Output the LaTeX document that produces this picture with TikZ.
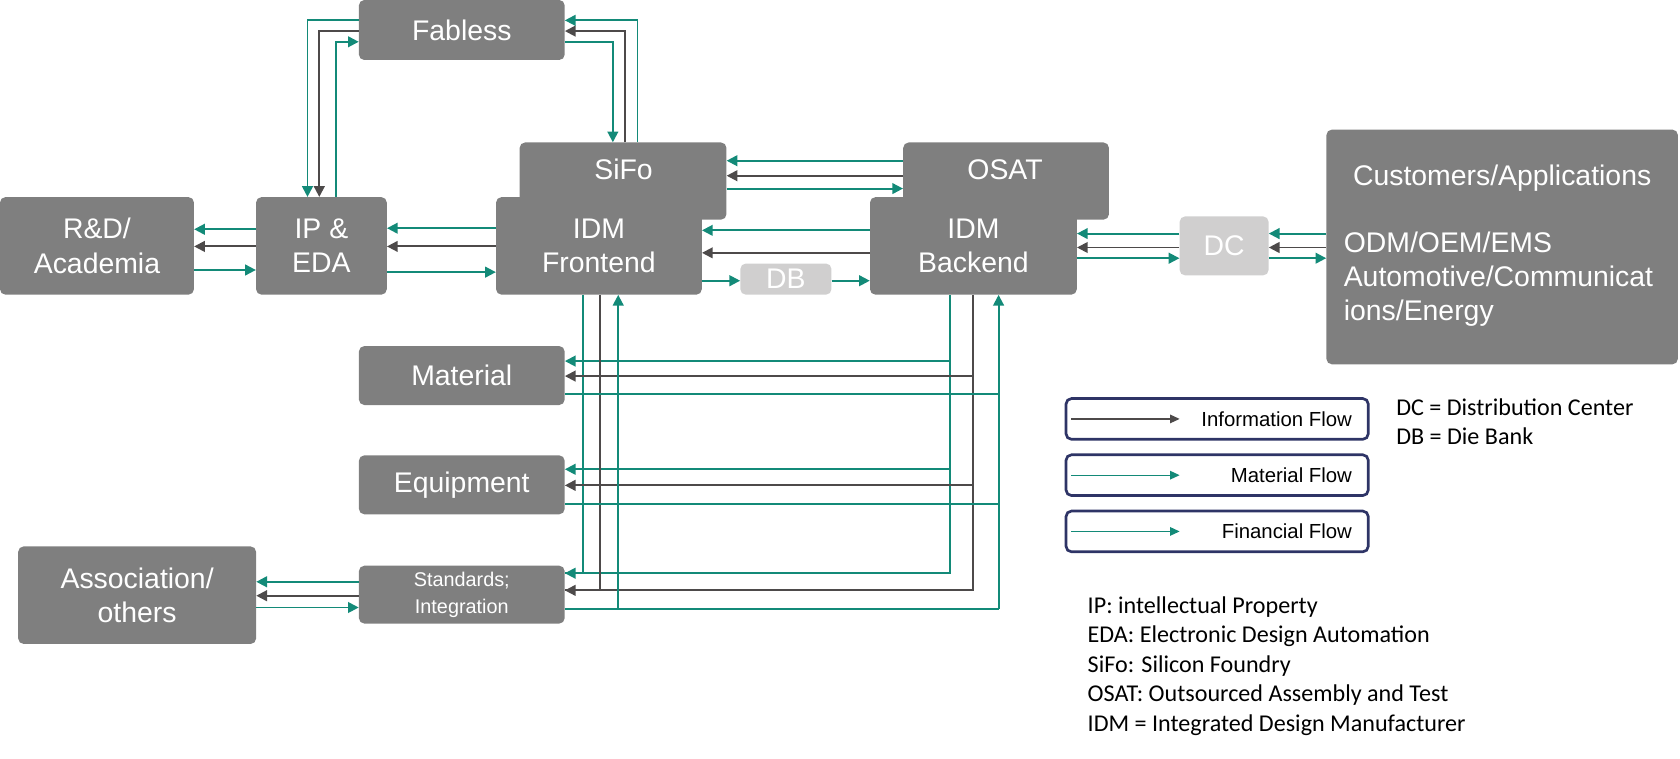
\documentclass[tikz,border=0pt]{standalone}
\usepackage{fontspec}
\setmainfont{Liberation Sans}
\newfontfamily\carlfont{Carlito}
\usetikzlibrary{arrows.meta,calc}
\definecolor{bxg}{HTML}{7F7F7F}
\definecolor{lg}{HTML}{D0CFCF}
\definecolor{tl}{HTML}{138A78}
\definecolor{dk}{HTML}{4D4A4A}
\definecolor{nv}{HTML}{2E3466}
\tikzset{
 box/.style={fill=bxg,rounded corners=5pt,text=white,font=\fontsize{26.5}{32}\selectfont,align=center,inner sep=0pt},
 lbox/.style={box,fill=lg},
 tip/.style={-{Triangle[length=10pt,width=10pt]}},
 mat/.style={draw=tl,line width=1.8pt,tip},
 inf/.style={draw=dk,line width=1.8pt,tip},
 ln/.style={draw=tl,line width=1.8pt},
 lnd/.style={draw=dk,line width=1.8pt},
 leg/.style={draw=nv,line width=2.5pt,rounded corners=5pt},
 abv/.style={font=\carlfont\fontsize{22.5}{25}\selectfont,anchor=west,inner sep=0pt},
 legt/.style={anchor=east,font=\fontsize{19}{22}\selectfont,inner sep=0},
}
\newcommand{\bx}[7]{\node[#1,minimum width={(#4-#2)*1pt},minimum height={(#5-#3)*1pt}] (#6) at ({(#2+#4)/2},{(#3+#5)/2}) {#7};}
\begin{document}
\begin{tikzpicture}[x=1pt,y=-1pt]
\useasboundingbox (0,0) rectangle (1568,708);
\bx{box}{335}{0}{527}{56}{fab}{Fabless}
\bx{box}{485}{133}{678}{205}{sifo}{}
\node[box] (sifot) at (582,158) {SiFo};
\bx{box}{843}{133}{1035}{205}{osat}{}
\node[box] (osatt) at (938,158) {OSAT};
\bx{box}{0}{184}{181}{275}{rd}{R\&D/\\Academia}
\bx{box}{239}{184}{361}{275}{ip}{IP \&\\EDA}
\bx{box}{463}{184}{655}{275}{fe}{IDM\\Frontend}
\bx{lbox}{691}{246}{776}{275}{db}{DB}
\bx{box}{812}{184}{1005}{275}{be}{IDM\\Backend}
\bx{lbox}{1101}{202}{1184}{257}{dc}{DC}
\bx{box}{1238}{121}{1566}{340}{cu}{}
\node[box] (cut) at (1402,166) {Customers/Applications};
\node[box,anchor=north west,align=left] (cut2) at (1254,216) {ODM/OEM/EMS\\Automotive/Communicat\\ions/Energy};
\bx{box}{335}{323}{527}{378}{mt}{Material}
\bx{box}{335}{425}{527}{480}{eq}{Equipment}
\bx{box,font=\fontsize{18.5}{25}\selectfont}{335}{528}{527}{582}{st}{Standards;\\Integration}
\bx{box}{17}{510}{239}{601}{as}{Association/\\others}
% Fabless - IP
\draw[mat] (fab.west|-0,19) -| (ip.north-|287,0);
\draw[inf] (fab.west|-0,29) -| (ip.north-|298,0);
\draw[mat] (ip.north-|314,0) |- (fab.west|-0,39);
% Fabless - SiFo
\draw[mat] (fab.east|-0,39) -| (sifo.north-|572,0);
\draw[inf] (sifo.north-|583,0) |- (fab.east|-0,29);
\draw[mat] (sifo.north-|595,0) |- (fab.east|-0,19);
% SiFo - OSAT
\draw[mat] (osat.west|-0,150) -- (sifo.east|-0,150);
\draw[inf] (osat.west|-0,164) -- (sifo.east|-0,164);
\draw[mat] (sifo.east|-0,176) -- (osat.west|-0,176);
% R&D - IP
\draw[mat] (ip.west|-0,214) -- (rd.east|-0,214);
\draw[inf] (ip.west|-0,230) -- (rd.east|-0,230);
\draw[mat] (rd.east|-0,252) -- (ip.west|-0,252);
% IP - FE
\draw[mat] (fe.west|-0,213) -- (ip.east|-0,213);
\draw[inf] (fe.west|-0,230) -- (ip.east|-0,230);
\draw[mat] (ip.east|-0,254) -- (fe.west|-0,254);
% FE - BE
\draw[mat] (be.west|-0,215) -- (fe.east|-0,215);
\draw[inf] (be.west|-0,236) -- (fe.east|-0,236);
\draw[mat] (fe.east|-0,262) -- (db.west|-0,262);
\draw[mat] (db.east|-0,262) -- (be.west|-0,262);
% BE - DC - Customers
\draw[mat] (dc.west|-0,218) -- (be.east|-0,218);
\draw[inf] (dc.west|-0,231) -- (be.east|-0,231);
\draw[mat] (be.east|-0,241) -- (dc.west|-0,241);
\draw[mat] (cu.west|-0,218) -- (dc.east|-0,218);
\draw[inf] (cu.west|-0,231) -- (dc.east|-0,231);
\draw[mat] (dc.east|-0,241) -- (cu.west|-0,241);
% Association - Standards
\draw[mat] (st.west|-0,543) -- (as.east|-0,543);
\draw[inf] (st.west|-0,556) -- (as.east|-0,556);
\draw[mat] (as.east|-0,567) -- (st.west|-0,567);
% supply side: material from BE/FE
\path[ln] (be.south-|887,0) |- (st.east|-0,535);
\path[ln] (fe.south-|544,0) -- (544,535);
\draw[mat] (887,337) -- (mt.east|-0,337);
\draw[mat] (887,438) -- (eq.east|-0,438);
\draw[mat] (544,535) -- (st.east|-0,535);
% information
\path[lnd] (be.south-|908,0) |- (st.east|-0,551);
\path[lnd] (fe.south-|560,0) -- (560,551);
\draw[inf] (908,351) -- (mt.east|-0,351);
\draw[inf] (908,453) -- (eq.east|-0,453);
\draw[inf] (560,551) -- (st.east|-0,551);
% financial back
\path[ln] (mt.east|-0,368) -- (932,368);
\path[ln] (eq.east|-0,470) -- (932,470);
\path[ln] (st.east|-0,568) -- (932,568);
\draw[mat] (932,568) -- (be.south-|932,0);
\draw[mat] (577,568) -- (fe.south-|577,0);
% legend
\node[leg,minimum width=282pt,minimum height=38pt] (l1) at (1136,391) {};
\node[leg,minimum width=282pt,minimum height=38pt] (l2) at (1136,443.5) {};
\node[leg,minimum width=282pt,minimum height=38pt] (l3) at (1136,496) {};
\coordinate (a1) at (1000,391); \coordinate (b1) at (1101,391);
\coordinate (a2) at (1000,443.5); \coordinate (b2) at (1101,443.5);
\coordinate (a3) at (1000,496); \coordinate (b3) at (1101,496);
\draw[inf,line width=1.2pt,-{Triangle[length=9pt,width=8pt]}] (a1) -- (b1);
\draw[mat,line width=1.2pt,-{Triangle[length=9pt,width=8pt]}] (a2) -- (b2);
\draw[mat,line width=1.2pt,-{Triangle[length=9pt,width=8pt]}] (a3) -- (b3);
\node[legt] (t1) at (1262,391) {Information Flow};
\node[legt] (t2) at (1262,443.5) {Material Flow};
\node[legt] (t3) at (1262,496) {Financial Flow};
\node[abv] (d1) at (1303,380) {DC = Distribution Center};
\node[abv] (d2) at (1303,407) {DB = Die Bank};
\node[abv] (e1) at (1015,567) {IP: intellectual Property};
\node[abv] (e2) at (1015,594) {EDA: Electronic Design Automation};
\node[abv] (e3) at (1015,622) {SiFo: Silicon Foundry};
\node[abv] (e4) at (1015,649) {OSAT: Outsourced Assembly and Test};
\node[abv] (e5) at (1015,677) {IDM = Integrated Design Manufacturer};
\end{tikzpicture}
\end{document}
